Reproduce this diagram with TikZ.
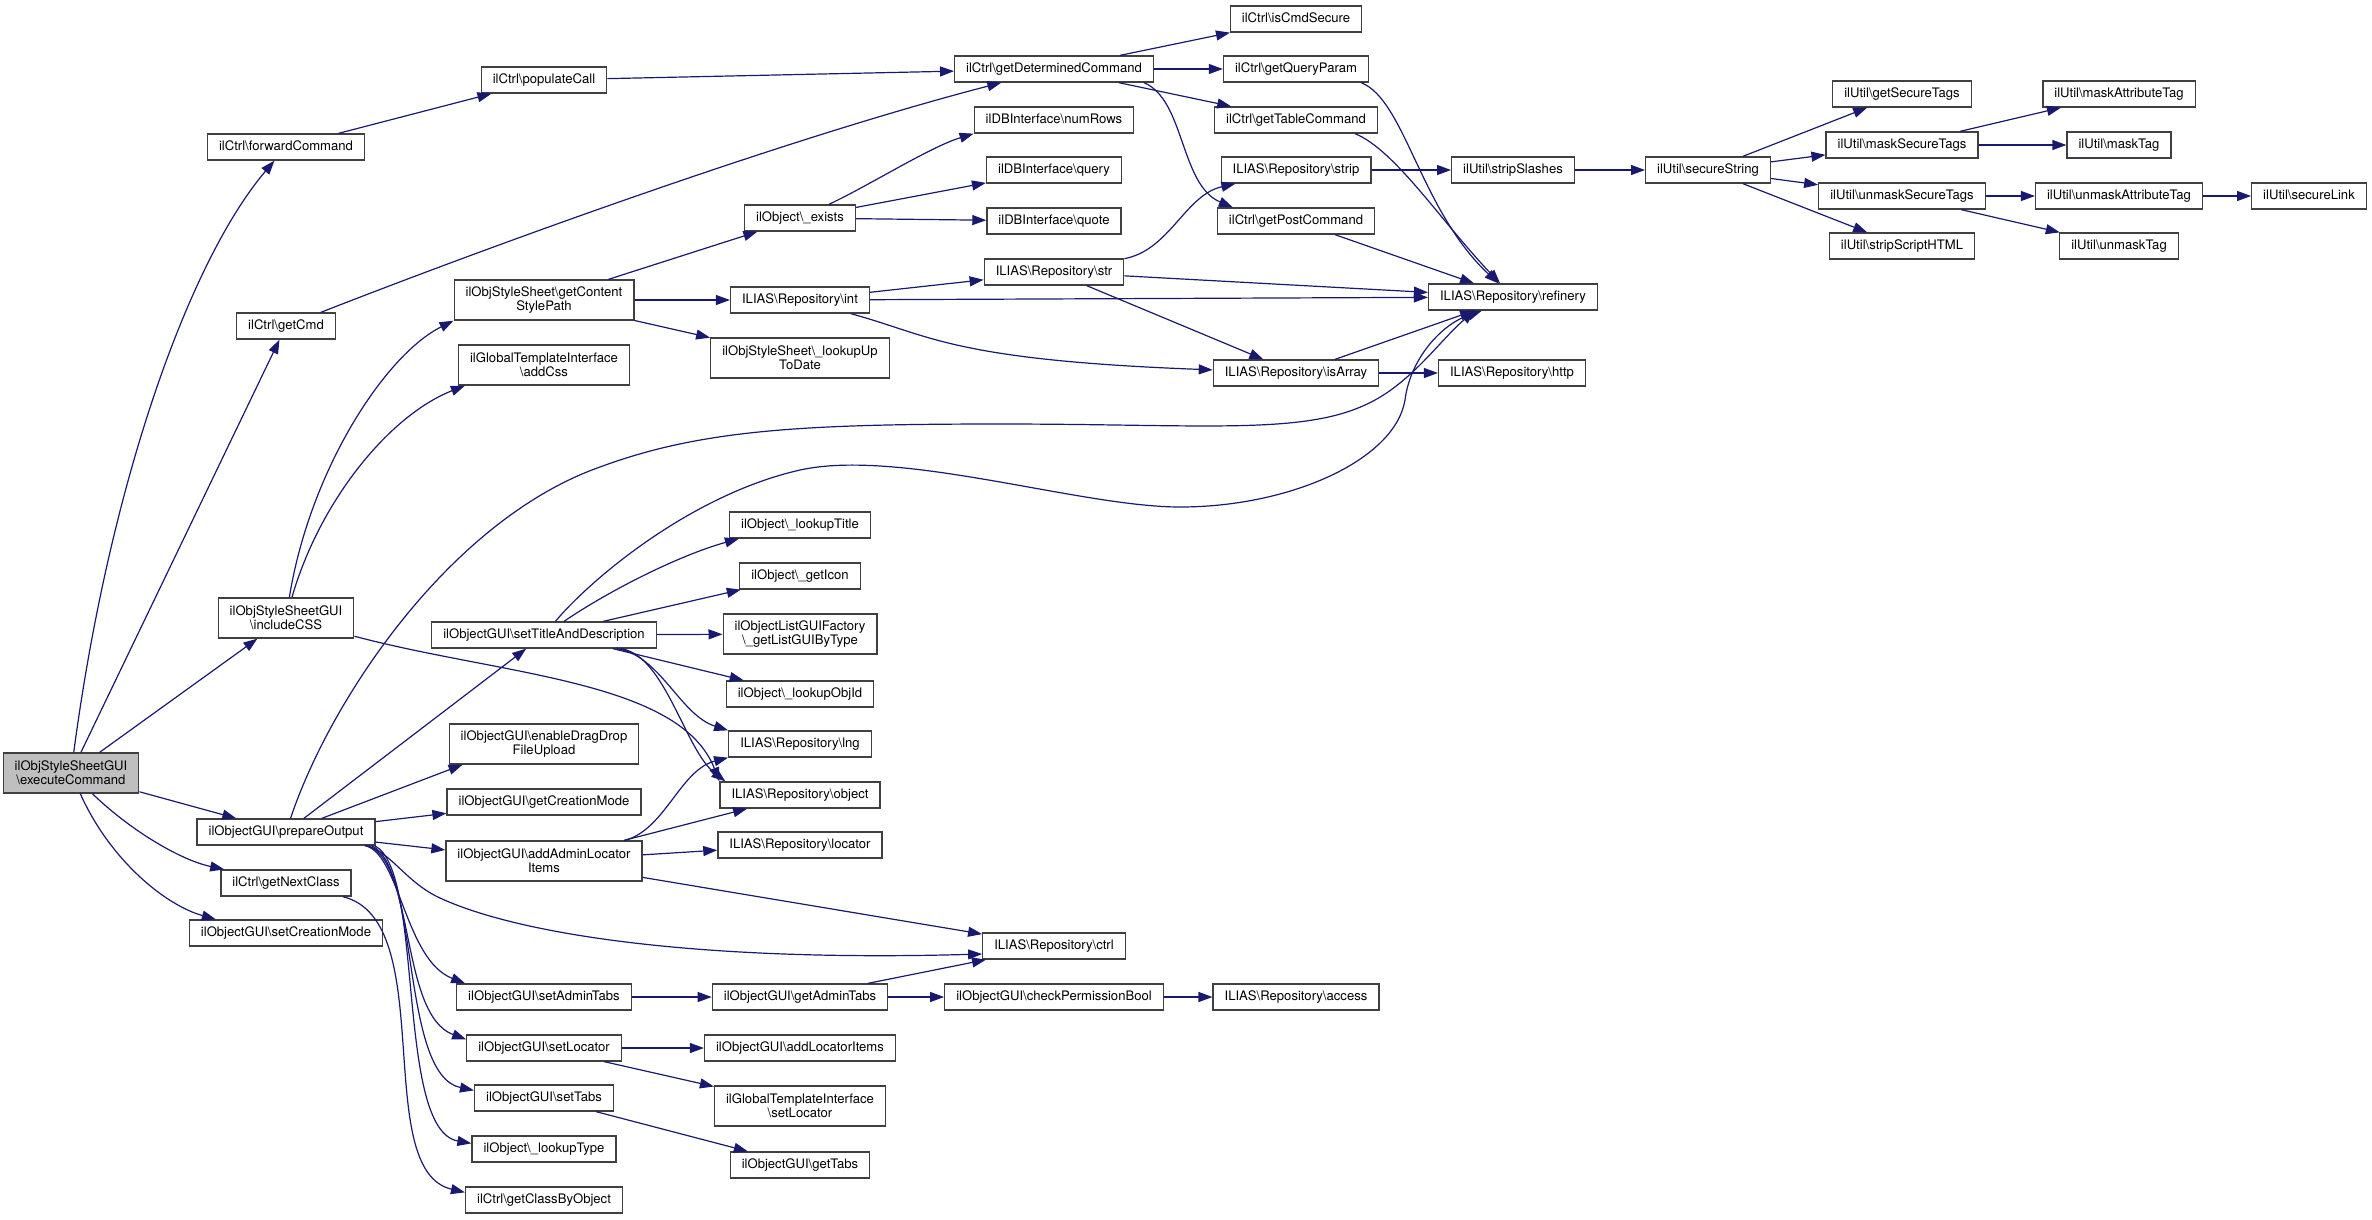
\documentclass[tikz,border=0pt]{standalone}
\usepackage{fontspec}
\setmainfont{TeX Gyre Heros}
\usetikzlibrary{arrows.meta}
\definecolor{boxline}{HTML}{404040}
\definecolor{callblue}{HTML}{191970}
\definecolor{rootfill}{HTML}{BFBFBF}
\newcommand{\nsep}{\textbackslash}

\begin{document}
\begin{tikzpicture}[x=1pt,y=-1pt,
  fn/.style={draw=boxline,line width=1.3pt,fill=white,inner xsep=11.5pt,inner ysep=0pt,font=\fontsize{13.1pt}{14.3pt}\selectfont},
  fnone/.style={fn,minimum height=26pt,text height=9.5pt,text depth=2.8pt},
  fntwo/.style={fn,minimum height=40pt,align=center},
  call/.style={draw=callblue,line width=1.2pt,-{Triangle[length=14pt,width=10pt]}}]
\useasboundingbox (0,0) rectangle (2372,1219) ;

\node[fntwo,fill=rootfill] (exec) at (71,773) {ilObjStyleSheetGUI\\\nsep executeCommand} ;

\node[fnone] (fwdcmd) at (286,147) {ilCtrl\nsep forwardCommand} ;
\node[fnone] (getcmd) at (286,326) {ilCtrl\nsep getCmd} ;
\node[fntwo] (inccss) at (286,618) {ilObjStyleSheetGUI\\\nsep includeCSS} ;
\node[fnone] (prepout) at (286,832) {ilObjectGUI\nsep prepareOutput} ;
\node[fnone] (nextcls) at (286,883) {ilCtrl\nsep getNextClass} ;
\node[fnone] (setcrm) at (286,933) {ilObjectGUI\nsep setCreationMode} ;

\node[fnone] (popcall) at (544,80) {ilCtrl\nsep populateCall} ;
\node[fntwo] (csspath) at (544,300) {ilObjStyleSheet\nsep getContent\\StylePath} ;
\node[fntwo] (addcss) at (544,365) {ilGlobalTemplateInterface\\\nsep addCss} ;
\node[fnone] (settitle) at (544,635) {ilObjectGUI\nsep setTitleAndDescription} ;
\node[fntwo] (dragdrop) at (544,744) {ilObjectGUI\nsep enableDragDrop\\FileUpload} ;
\node[fnone] (getcrm) at (544,802) {ilObjectGUI\nsep getCreationMode} ;
\node[fntwo] (adminloc) at (544,861) {ilObjectGUI\nsep addAdminLocator\\Items} ;
\node[fnone] (setadmtabs) at (544,997) {ilObjectGUI\nsep setAdminTabs} ;
\node[fnone] (setloc) at (544,1048) {ilObjectGUI\nsep setLocator} ;
\node[fnone] (settabs) at (544,1098) {ilObjectGUI\nsep setTabs} ;
\node[fnone] (looktype) at (544,1149) {ilObject\nsep\_lookupType} ;
\node[fnone] (classbyobj) at (544,1200) {ilCtrl\nsep getClassByObject} ;

\node[fnone] (exists) at (800,218) {ilObject\nsep\_exists} ;
\node[fnone] (repint) at (800,300) {ILIAS\nsep Repository\nsep int} ;
\node[fntwo] (lookupdate) at (800,358) {ilObjStyleSheet\nsep\_lookupUp\\ToDate} ;
\node[fnone] (looktitle) at (800,525) {ilObject\nsep\_lookupTitle} ;
\node[fnone] (geticon) at (800,576) {ilObject\nsep\_getIcon} ;
\node[fntwo] (listgui) at (800,634) {ilObjectListGUIFactory\\\nsep\_getListGUIByType} ;
\node[fnone] (lookobjid) at (800,694) {ilObject\nsep\_lookupObjId} ;
\node[fnone] (replng) at (800,744) {ILIAS\nsep Repository\nsep lng} ;
\node[fnone] (repobj) at (800,795) {ILIAS\nsep Repository\nsep object} ;
\node[fnone] (reploc) at (800,845) {ILIAS\nsep Repository\nsep locator} ;
\node[fnone] (getadmtabs) at (800,997) {ilObjectGUI\nsep getAdminTabs} ;
\node[fnone] (addlocitems) at (800,1048) {ilObjectGUI\nsep addLocatorItems} ;
\node[fntwo] (tplsetloc) at (800,1106) {ilGlobalTemplateInterface\\\nsep setLocator} ;
\node[fnone] (gettabs) at (800,1165) {ilObjectGUI\nsep getTabs} ;

\node[fnone] (detcmd) at (1054,69) {ilCtrl\nsep getDeterminedCommand} ;
\node[fnone] (numrows) at (1054,120) {ilDBInterface\nsep numRows} ;
\node[fnone] (dbquery) at (1054,170) {ilDBInterface\nsep query} ;
\node[fnone] (dbquote) at (1054,221) {ilDBInterface\nsep quote} ;
\node[fnone] (repstr) at (1054,272) {ILIAS\nsep Repository\nsep str} ;
\node[fnone] (repctrl) at (1054,946) {ILIAS\nsep Repository\nsep ctrl} ;
\node[fnone] (checkperm) at (1054,997) {ilObjectGUI\nsep checkPermissionBool} ;

\node[fnone] (iscmdsec) at (1296,19) {ilCtrl\nsep isCmdSecure} ;
\node[fnone] (queryparam) at (1296,69) {ilCtrl\nsep getQueryParam} ;
\node[fnone] (tablecmd) at (1296,120) {ilCtrl\nsep getTableCommand} ;
\node[fnone] (repstrip) at (1296,170) {ILIAS\nsep Repository\nsep strip} ;
\node[fnone] (postcmd) at (1296,221) {ilCtrl\nsep getPostCommand} ;
\node[fnone] (isarray) at (1296,373) {ILIAS\nsep Repository\nsep isArray} ;
\node[fnone] (access) at (1296,997) {ILIAS\nsep Repository\nsep access} ;

\node[fnone] (stripslash) at (1513,170) {ilUtil\nsep stripSlashes} ;
\node[fnone] (refinery) at (1513,297) {ILIAS\nsep Repository\nsep refinery} ;
\node[fnone] (http) at (1512,373) {ILIAS\nsep Repository\nsep http} ;
\node[fnone] (securestr) at (1708,170) {ilUtil\nsep secureString} ;

\node[fnone] (gettags) at (1902,94) {ilUtil\nsep getSecureTags} ;
\node[fnone] (masktags) at (1902,145) {ilUtil\nsep maskSecureTags} ;
\node[fnone] (unmasktags) at (1902,196) {ilUtil\nsep unmaskSecureTags} ;
\node[fnone] (stripscript) at (1902,246) {ilUtil\nsep stripScriptHTML} ;
\node[fnone] (maskattr) at (2119,94) {ilUtil\nsep maskAttributeTag} ;
\node[fnone] (masktag) at (2119,145) {ilUtil\nsep maskTag} ;
\node[fnone] (unmaskattr) at (2119,196) {ilUtil\nsep unmaskAttributeTag} ;
\node[fnone] (unmasktag) at (2119,246) {ilUtil\nsep unmaskTag} ;
\node[fnone] (securelink) at (2309,196) {ilUtil\nsep secureLink} ;

\draw[call] (exec) .. controls (110,480) and (190,260) .. (fwdcmd) ;
\draw[call] (exec) -- (getcmd) ;
\draw[call] (exec) -- (inccss) ;
\draw[call] (exec) -- (prepout) ;
\draw[call] (exec) .. controls (130,830) and (180,860) .. ([xshift=4pt]nextcls.north west) ;
\draw[call] (exec) .. controls (110,860) and (165,905) .. ([xshift=27pt]setcrm.north west) ;
\draw[call] (fwdcmd) -- (popcall) ;
\draw[call] (popcall) -- (detcmd) ;
\draw[call] (getcmd) .. controls (480,250) and (780,140) .. (detcmd) ;
\draw[call] (detcmd) -- (iscmdsec) ;
\draw[call] (detcmd) -- (queryparam) ;
\draw[call] (detcmd) -- (tablecmd) ;
\draw[call] ([xshift=-10pt]detcmd.south east) .. controls (1185,100) and (1180,185) .. ([xshift=16pt]postcmd.north west) ;
\draw[call] ([xshift=-8pt]queryparam.south east) .. controls (1405,100) and (1420,210) .. (refinery) ;
\draw[call] ([xshift=-23pt]tablecmd.south east) .. controls (1395,150) and (1440,220) .. (refinery) ;
\draw[call] (postcmd) -- (refinery) ;
\draw[call] (inccss) .. controls (310,470) and (385,355) .. (csspath.south west) ;
\draw[call] (inccss) .. controls (320,500) and (390,415) .. ([xshift=7pt]addcss.south west) ;
\draw[call] (inccss) .. controls (500,675) and (680,680) .. (repobj.north west) ;
\draw[call] (csspath) -- (exists) ;
\draw[call] (csspath) -- (repint) ;
\draw[call] (csspath) -- (lookupdate) ;
\draw[call] (exists) .. controls (870,185) and (930,147) .. (numrows.south west) ;
\draw[call] (exists) -- (dbquery) ;
\draw[call] (exists) -- (dbquote) ;
\draw[call] (repint) -- (repstr) ;
\draw[call] (repint) -- (refinery) ;
\draw[call] (repint) .. controls (930,335) and (950,360) .. (isarray) ;
\draw[call] (repstr) .. controls (1170,250) and (1185,195) .. (repstrip) ;
\draw[call] (repstr) -- (refinery) ;
\draw[call] (repstr) -- (isarray) ;
\draw[call] (repstrip) -- (stripslash) ;
\draw[call] (stripslash) -- (securestr) ;
\draw[call] (securestr) -- (gettags) ;
\draw[call] (securestr) -- (masktags) ;
\draw[call] (securestr) -- (unmasktags) ;
\draw[call] (securestr) -- (stripscript) ;
\draw[call] (masktags) -- (maskattr) ;
\draw[call] (masktags) -- (masktag) ;
\draw[call] (unmasktags) -- (unmaskattr) ;
\draw[call] (unmasktags) -- (unmasktag) ;
\draw[call] (unmaskattr) -- (securelink) ;
\draw[call] (isarray) -- (refinery) ;
\draw[call] (isarray) -- (http) ;
\draw[call] (prepout) .. controls (330,700) and (450,520) .. (600,467) .. controls (700,430) and (800,424) .. (1000,424) .. controls (1200,424) and (1300,435) .. (1365,405) .. controls (1410,385) and (1440,340) .. ([xshift=47pt]refinery.south west) ;
\draw[call] (settitle) .. controls (590,580) and (690,495) .. (800,470) .. controls (900,448) and (1080,507) .. (1180,507) .. controls (1290,507) and (1395,460) .. (1405,400) .. controls (1410,360) and (1440,325) .. ([xshift=54pt]refinery.south west) ;
\draw[call] (settitle) .. controls (610,590) and (680,555) .. ([xshift=10pt]looktitle.south west) ;
\draw[call] (settitle) -- (geticon) ;
\draw[call] (settitle) -- (listgui) ;
\draw[call] ([xshift=-44pt]settitle.south east) -- (lookobjid) ;
\draw[call] ([xshift=-40pt]settitle.south east) .. controls (660,655) and (680,715) .. (replng.north west) ;
\draw[call] ([xshift=-36pt]settitle.south east) .. controls (665,655) and (685,750) .. ([xshift=6pt]repobj.north west) ;
\draw[call] (prepout) -- (settitle) ;
\draw[call] (prepout) -- ([xshift=14pt]dragdrop.south west) ;
\draw[call] (prepout) -- (getcrm) ;
\draw[call] (prepout) -- (adminloc) ;
\draw[call] (prepout) .. controls (390,850) and (405,882) .. (440,898) .. controls (520,935) and (700,962) .. ([yshift=-8pt]repctrl.west) ;
\draw[call] ([xshift=-10pt]prepout.south east) .. controls (400,855) and (405,960) .. ([xshift=9pt]setadmtabs.north west) ;
\draw[call] ([xshift=-7pt]prepout.south east) .. controls (415,865) and (400,1015) .. ([yshift=-5pt]setloc.north west) ;
\draw[call] ([xshift=-4pt]prepout.south east) .. controls (420,868) and (400,1075) .. ([yshift=-6pt]settabs.north west) ;
\draw[call] ([xshift=-1pt]prepout.south east) .. controls (425,870) and (395,1130) .. ([yshift=-8pt]looktype.north west) ;
\draw[call] (nextcls) .. controls (440,920) and (370,1170) .. ([yshift=-6pt]classbyobj.north west) ;
\draw[call] (adminloc) .. controls (665,830) and (680,770) .. (replng.south west) ;
\draw[call] (adminloc) -- (repobj) ;
\draw[call] (adminloc) -- (reploc) ;
\draw[call] (adminloc) -- (repctrl) ;
\draw[call] (setadmtabs) -- (getadmtabs) ;
\draw[call] (getadmtabs) -- (repctrl) ;
\draw[call] (getadmtabs) -- (checkperm) ;
\draw[call] (checkperm) -- (access) ;
\draw[call] (setloc) -- (addlocitems) ;
\draw[call] (setloc) -- (tplsetloc) ;
\draw[call] (settabs) -- (gettabs) ;

\end{tikzpicture}
\end{document}
